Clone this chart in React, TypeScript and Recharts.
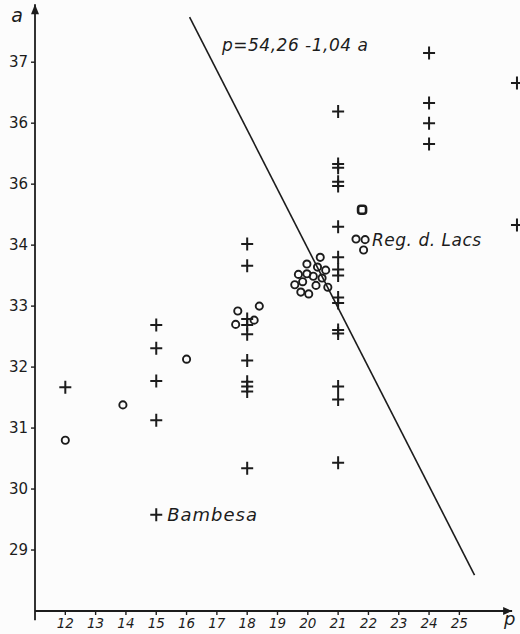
import { ReferenceDot, ReferenceLine, Scatter, ScatterChart, XAxis, YAxis } from 'recharts'

const ink = '#1c1c1c'
const hand = '"DejaVu Sans", sans-serif'

const xTicks = [12, 13, 14, 15, 16, 17, 18, 19, 20, 21, 22, 23, 24, 25]
const yTicks = [29, 30, 31, 32, 33, 34, 35, 36, 37]
// the scan shows the 35 tick as "36"
const yTickLabels = ['29', '30', '31', '32', '33', '34', '36', '36', '37']

// crosses (+)
const plusP = [
  12,
  15, 15, 15, 15, 15,
  18, 18, 18, 18, 18, 18, 18, 18, 18, 18,
  21, 21, 21, 21, 21, 21, 21, 21, 21, 21, 21, 21, 21, 21, 21, 21,
  24, 24, 24, 24,
  26.9, 26.9,
]
const plusA = [
  31.67,
  32.69, 32.31, 31.77, 31.13, 29.58,
  34.02, 33.66, 32.79, 32.69, 32.54, 32.11, 31.76, 31.68, 31.6, 30.34,
  36.19, 35.33, 35.27, 35.04, 34.97, 34.3, 33.8, 33.6, 33.5, 33.14, 33.05, 32.61, 32.55, 31.68, 31.47, 30.43,
  37.15, 36.33, 36.0, 35.66,
  36.66, 34.33,
]

// circles (o)
const ringP = [
  12, 13.9, 16,
  17.69, 18.4, 17.62, 18.23,
  20.41, 19.97, 20.32, 20.59, 19.69, 19.97, 20.18, 20.47, 19.83, 19.57, 20.27, 20.66, 19.77, 20.03,
  21.59, 21.89, 21.84,
]
const ringA = [
  30.8, 31.38, 32.13,
  32.92, 33.0, 32.7, 32.77,
  33.8, 33.69, 33.64, 33.59, 33.52, 33.53, 33.49, 33.46, 33.4, 33.35, 33.34, 33.31, 33.23, 33.2,
  34.1, 34.09, 33.92,
]

// boxed circle
const boxP = [21.79]
const boxA = [34.58]

// drawn line p = 54,26 - 1,04 a (ends as drawn)
const fitP = [16.1, 25.5]
const fitA = [37.74, 28.59]

// axis extents
const axisP = [11, 26.74]
const axisA = [27.85, 28, 37.95]

const noteText = ['p=54,26 -1,04 a', 'Reg. d. Lacs', 'Bambesa']
const noteP = [17.17, 22.12, 15.36]
const noteA = [37.28, 34.07, 29.57]
const noteSize = [17, 17, 18]
const noteSpacing = [0.5, 0.5, 1]

const plusData = plusP.map((p, i) => ({ p, a: plusA[i] }))
const ringData = ringP.map((p, i) => ({ p, a: ringA[i] }))
const boxData = boxP.map((p, i) => ({ p, a: boxA[i] }))

function Plus(props: any) {
  const { cx, cy } = props
  return <path d={`M${cx - 6},${cy}H${cx + 6}M${cx},${cy - 6.5}V${cy + 6.5}`} stroke={ink} strokeWidth={2} fill="none" />
}

function Ring(props: any) {
  const { cx, cy } = props
  return <circle cx={cx} cy={cy} r={3.6} stroke={ink} strokeWidth={1.9} fill="none" />
}

function Box(props: any) {
  const { cx, cy } = props
  return <rect x={cx - 4} y={cy - 4} width={8} height={8} rx={2.5} stroke={ink} strokeWidth={2.6} fill="none" />
}

function YTick(props: any) {
  const { x, y, payload } = props
  const idx = yTicks.indexOf(payload.value)
  return (
    <text x={x - 1} y={y} dy={5} textAnchor="end" fontFamily={hand} fontSize={15} fill={ink}>
      {yTickLabels[idx]}
    </text>
  )
}

function XTick(props: any) {
  const { x, y, payload } = props
  return (
    <text x={x} y={y} dy={11} textAnchor="middle" fontFamily={hand} fontStyle="italic" fontSize={13.5} fill={ink}>
      {payload.value}
    </text>
  )
}

function note(text: string, size: number, spacing: number) {
  return (props: any) => (
    <text x={props.cx} y={props.cy} dy={5.5} fontFamily={hand} fontStyle="italic" fontSize={size} letterSpacing={spacing} fill={ink}>
      {text}
    </text>
  )
}

export default function App() {
  return (
    <div style={{ position: 'absolute', left: 0, top: 0, width: 520, height: 634, background: '#fcfcfc' }}>
      <ScatterChart width={520} height={634} margin={{ top: 0, right: 0, bottom: 0, left: 0 }}>
        <XAxis
          type="number"
          dataKey="p"
          domain={[11, 27]}
          ticks={xTicks}
          allowDataOverflow
          height={23}
          axisLine={false}
          tickLine={{ stroke: ink, strokeWidth: 1.4 }}
          tickSize={4}
          tick={<XTick />}
        />
        <YAxis
          type="number"
          dataKey="a"
          domain={[28, 38.02]}
          ticks={yTicks}
          allowDataOverflow
          width={35}
          axisLine={false}
          tickLine={{ stroke: ink, strokeWidth: 1.4 }}
          tickSize={4}
          tick={<YTick />}
        />
        <ReferenceLine
          segment={[{ x: axisP[0], y: axisA[1] }, { x: axisP[1], y: axisA[1] }]}
          stroke={ink}
          strokeWidth={1.8}
          ifOverflow="visible"
        />
        <ReferenceLine
          segment={[{ x: axisP[0], y: axisA[0] }, { x: axisP[0], y: axisA[2] }]}
          stroke={ink}
          strokeWidth={1.8}
          ifOverflow="visible"
        />
        <ReferenceDot
          x={axisP[1]}
          y={axisA[1]}
          ifOverflow="visible"
          shape={(pr: any) => <path d={`M${pr.cx},${pr.cy}L${pr.cx - 9},${pr.cy - 4}L${pr.cx - 9},${pr.cy + 4}Z`} fill={ink} />}
        />
        <ReferenceDot
          x={axisP[0]}
          y={axisA[2]}
          ifOverflow="visible"
          shape={(pr: any) => <path d={`M${pr.cx},${pr.cy}L${pr.cx - 4},${pr.cy + 10}L${pr.cx + 4},${pr.cy + 10}Z`} fill={ink} />}
        />
        <ReferenceDot
          x={10.41}
          y={37.75}
          ifOverflow="visible"
          shape={(pr: any) => (
            <text x={pr.cx} y={pr.cy} dy={6} textAnchor="middle" fontFamily={hand} fontStyle="italic" fontSize={19} fill={ink}>a</text>
          )}
        />
        <ReferenceDot
          x={26.66}
          y={27.83}
          ifOverflow="visible"
          shape={(pr: any) => (
            <text x={pr.cx} y={pr.cy} dy={4} textAnchor="middle" fontFamily={hand} fontStyle="italic" fontSize={18} fill={ink}>p</text>
          )}
        />
        <ReferenceLine
          segment={[{ x: fitP[0], y: fitA[0] }, { x: fitP[1], y: fitA[1] }]}
          stroke={ink}
          strokeWidth={1.6}
          ifOverflow="visible"
        />
        {noteText.map((t, i) => (
          <ReferenceDot key={t} x={noteP[i]} y={noteA[i]} ifOverflow="visible" shape={note(t, noteSize[i], noteSpacing[i])} />
        ))}
        <Scatter data={plusData} shape={<Plus />} isAnimationActive={false} />
        <Scatter data={ringData} shape={<Ring />} isAnimationActive={false} />
        <Scatter data={boxData} shape={<Box />} isAnimationActive={false} />
      </ScatterChart>
    </div>
  )
}
